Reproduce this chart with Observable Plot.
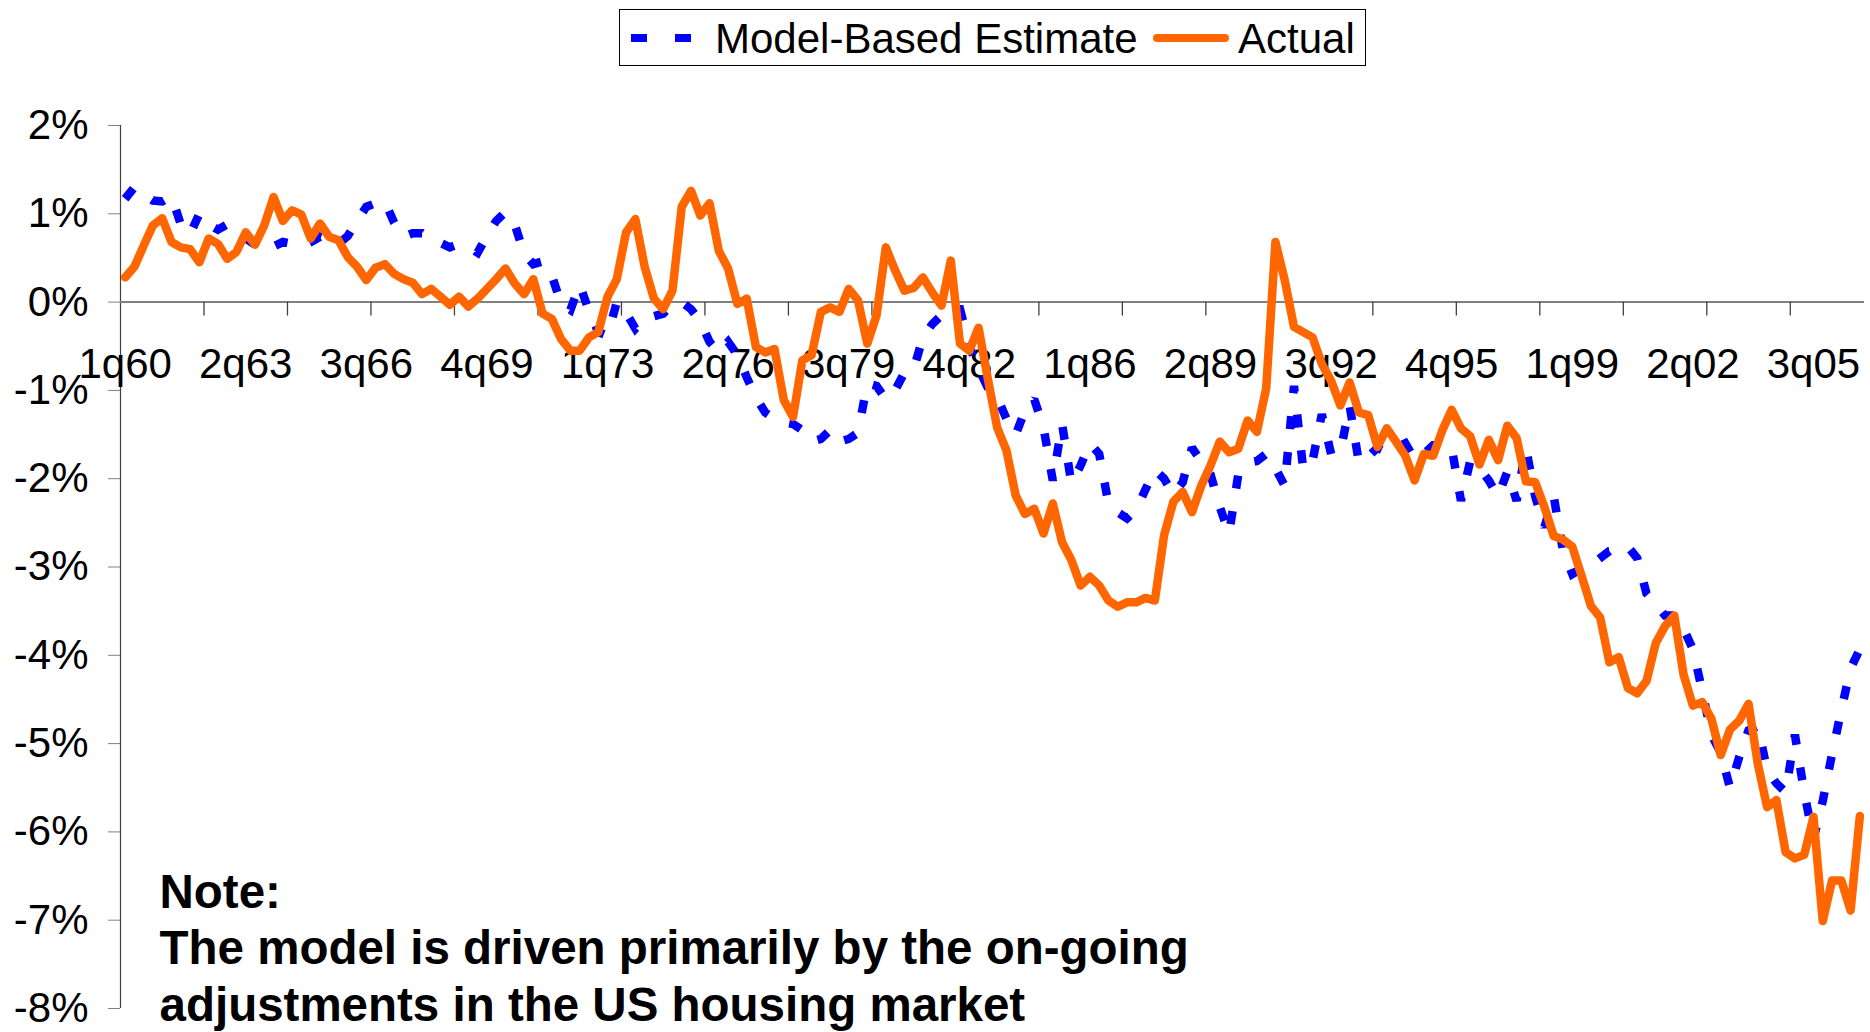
<!DOCTYPE html>
<html>
<head>
<meta charset="utf-8">
<script src="https://cdn.jsdelivr.net/npm/d3@7"></script>
<script src="https://cdn.jsdelivr.net/npm/@observablehq/plot@0.6"></script>
<style>
  html, body { margin: 0; padding: 0; background: #ffffff; }
  #page { width: 1870px; height: 1032px; position: relative; overflow: hidden; font-family: "Liberation Sans", Arial, sans-serif; }
  #legend { display: block; }
</style>
</head>
<body>
<div id="page">
  <svg id="legend" width="1870" height="70"></svg>
  <div id="chart"></div>
</div>
<script>
// ---------------- DATA ----------------
const seriesNames = ["Model-Based Estimate", "Actual"];
const seriesColors = ["#0000FF", "#FF6600"];

// quarterly categories 1q60 .. 4q06 (188 quarters)
const startYear = 1960;
const nQuarters = 188;
const quarters = Array.from({length: nQuarters}, (_, i) => {
  const y = (startYear + Math.floor(i / 4)) % 100;
  return `${(i % 4) + 1}q${String(y).padStart(2, "0")}`;
});

const xTickLabels = ["1q60","2q63","3q66","4q69","1q73","2q76","3q79","4q82","1q86","2q89","3q92","4q95","1q99","2q02","3q05"];
const xTickMarkInterval = 9;           // tick marks every 9 categories
const yTicks = [2, 1, 0, -1, -2, -3, -4, -5, -6, -7, -8];

const actual = [
  0.28, 0.40, 0.64, 0.87, 0.95, 0.68, 0.62, 0.60, 0.45, 0.72,
  0.66, 0.49, 0.57, 0.79, 0.65, 0.87, 1.19, 0.92, 1.04, 0.99,
  0.72, 0.89, 0.74, 0.70, 0.51, 0.40, 0.25, 0.39, 0.43, 0.32,
  0.26, 0.22, 0.09, 0.15, 0.06, -0.03, 0.06, -0.05, 0.04, 0.15,
  0.26, 0.38, 0.21, 0.09, 0.26, -0.13, -0.19, -0.42, -0.55, -0.55,
  -0.40, -0.34, 0.06, 0.26, 0.79, 0.94, 0.40, 0.04, -0.08, 0.13,
  1.08, 1.26, 0.98, 1.12, 0.58, 0.38, -0.02, 0.04, -0.51, -0.57,
  -0.53, -1.11, -1.30, -0.66, -0.60, -0.11, -0.06, -0.11, 0.15, 0.02,
  -0.47, -0.15, 0.62, 0.36, 0.13, 0.16, 0.28, 0.11, -0.04, 0.47,
  -0.47, -0.55, -0.29, -0.87, -1.42, -1.68, -2.19, -2.40, -2.34, -2.62,
  -2.28, -2.72, -2.92, -3.21, -3.11, -3.21, -3.38, -3.45, -3.40, -3.40,
  -3.35, -3.38, -2.64, -2.26, -2.15, -2.38, -2.08, -1.85, -1.58, -1.70,
  -1.66, -1.34, -1.47, -0.98, 0.68, 0.25, -0.28, -0.34, -0.40, -0.70,
  -0.89, -1.17, -0.91, -1.25, -1.28, -1.64, -1.43, -1.58, -1.74, -2.02,
  -1.72, -1.74, -1.45, -1.22, -1.43, -1.52, -1.84, -1.56, -1.79, -1.40,
  -1.54, -2.03, -2.04, -2.32, -2.65, -2.69, -2.77, -3.10, -3.44, -3.57,
  -4.08, -4.02, -4.37, -4.43, -4.29, -3.86, -3.67, -3.55, -4.22, -4.57,
  -4.53, -4.72, -5.13, -4.84, -4.74, -4.55, -5.23, -5.72, -5.64, -6.23,
  -6.30, -6.26, -5.83, -7.01, -6.55, -6.55, -6.89, -5.82
];

const model = [
  1.17, 1.30, 1.22, 1.15, 1.14, 1.20, 0.88, 0.77, 1.00, 0.88,
  0.82, 0.88, 0.83, 0.72, 0.65, 0.59, 0.63, 0.68, 0.66, 0.64,
  0.68, 0.74, 0.70, 0.66, 0.75, 0.92, 1.08, 1.12, 1.14, 0.90,
  0.74, 0.78, 0.78, 0.70, 0.67, 0.62, 0.66, 0.63, 0.56, 0.75,
  0.92, 1.02, 0.88, 0.55, 0.43, 0.46, 0.30, -0.02, -0.09, 0.20,
  -0.10, -0.34, -0.38, 0.00, -0.12, -0.30, -0.18, -0.16, -0.13, -0.03,
  0.00, -0.08, -0.22, -0.45, -0.57, -0.45, -0.60, -0.85, -1.08, -1.25,
  -1.32, -1.36, -1.38, -1.45, -1.58, -1.55, -1.45, -1.58, -1.55, -1.48,
  -0.92, -0.95, -1.10, -1.00, -0.80, -0.76, -0.40, -0.25, -0.15, -0.08,
  -0.08, -0.50, -0.75, -0.97, -1.08, -1.32, -1.50, -1.23, -1.10, -1.42,
  -2.02, -1.38, -2.05, -1.85, -1.60, -1.72, -2.28, -2.38, -2.45, -2.35,
  -2.12, -1.90, -2.00, -2.18, -2.04, -1.65, -1.80, -1.95, -2.32, -2.62,
  -1.95, -1.82, -1.80, -1.72, -1.88, -2.08, -0.95, -1.90, -1.80, -1.27,
  -1.72, -1.70, -1.17, -1.82, -1.75, -1.65, -1.70, -1.65, -1.60, -1.78,
  -1.72, -1.62, -1.62, -1.65, -2.25, -1.80, -1.88, -2.02, -2.20, -1.92,
  -2.25, -1.65, -2.20, -2.55, -2.20, -2.82, -3.08, -3.02, -2.98, -2.90,
  -2.82, -2.80, -2.77, -2.90, -3.30, -3.42, -3.55, -3.55, -3.70, -3.93,
  -4.40, -4.90, -5.10, -5.50, -5.15, -4.85, -4.80, -5.30, -5.45, -5.55,
  -4.90, -5.55, -6.08, -5.65, -5.12, -4.62, -4.15, -3.93
];

const noteLines = [
  "Note:",
  "The model is driven primarily by the on-going",
  "adjustments in the US housing market"
];

// ---------------- BUILD ----------------
const data = quarters.map((q, i) => ({i, q, model: model[i], actual: actual[i]}));
const labelIdx = xTickLabels.map(l => quarters.indexOf(l));
const tickMarks = d3.range(xTickMarkInterval, nQuarters, xTickMarkInterval).map(k => k - 0.5);

const FONT = "'Liberation Sans', Arial, Helvetica, sans-serif";

const tickShape = {
  draw(context, length) {
    context.moveTo(0, 0);
    context.lineTo(0, -length);
  }
};

const chart = Plot.plot({
  width: 1870,
  height: 962,
  marginTop: 55,
  marginBottom: 24,
  marginLeft: 120,
  marginRight: 6,
  style: {fontFamily: FONT, fontSize: "42px", background: "white", overflow: "visible", color: "black"},
  x: {type: "linear", domain: [-0.5, nQuarters - 0.5], axis: null},
  y: {type: "linear", domain: [-8, 2], axis: null},
  marks: [
    // y axis
    Plot.axisY({
      ticks: yTicks,
      tickFormat: d => `${d}%`,
      tickSize: 12,
      tickPadding: 20,
      fontSize: 42,
      stroke: "#808080",
      fill: "black",
      label: null
    }),
    Plot.ruleX([-0.5], {y1: -8, y2: 2, stroke: "#404040", strokeWidth: 1.2}),
    // category axis drawn through zero
    Plot.ruleY([0], {stroke: "#808080", strokeWidth: 2}),
    Plot.vector(tickMarks, {
      x: d => d, y: 0, length: 13, rotate: 180, anchor: "start",
      shape: tickShape, stroke: "#404040", strokeWidth: 1.3
    }),
    Plot.text(labelIdx, {
      x: d => d, y: 0, text: d => quarters[d], dy: 62,
      fontSize: 42, fill: "black", textAnchor: "middle"
    }),
    // series
    Plot.line(data, {
      x: "i", y: "model", stroke: seriesColors[0], strokeWidth: 8.5,
      strokeDasharray: "13,23", strokeLinecap: "butt", strokeLinejoin: "miter", strokeMiterlimit: 2
    }),
    Plot.line(data, {
      x: "i", y: "actual", stroke: seriesColors[1], strokeWidth: 8.5,
      strokeLinejoin: "round", strokeLinecap: "round"
    }),
    // note
    Plot.text([noteLines.join("\n")], {
      frameAnchor: "top-left", dx: 39, dy: 742, lineAnchor: "top",
      textAnchor: "start", lineHeight: 1.19, fontSize: 47.5, fontWeight: "bold", fill: "black"
    })
  ]
});
document.getElementById("chart").appendChild(chart);

// ---------------- LEGEND ----------------
const lg = d3.select("#legend");
lg.append("rect").attr("x", 619.5).attr("y", 9.5).attr("width", 746).attr("height", 56)
  .attr("fill", "white").attr("stroke", "black").attr("stroke-width", 1);
const legendItems = [
  {name: seriesNames[0], color: seriesColors[0], x1: 631, x2: 693, tx: 715, dash: "16,28", cap: "butt"},
  {name: seriesNames[1], color: seriesColors[1], x1: 1157, x2: 1225, tx: 1238, dash: null, cap: "round"}
];
for (const it of legendItems) {
  const ln = lg.append("line").attr("x1", it.x1).attr("x2", it.x2).attr("y1", 38).attr("y2", 38)
    .attr("stroke", it.color).attr("stroke-width", 8).attr("stroke-linecap", it.cap);
  if (it.dash) ln.attr("stroke-dasharray", it.dash);
  lg.append("text").attr("x", it.tx).attr("y", 53).attr("font-family", FONT).attr("font-size", 42)
    .attr("fill", "black").text(it.name);
}
</script>
</body>
</html>
